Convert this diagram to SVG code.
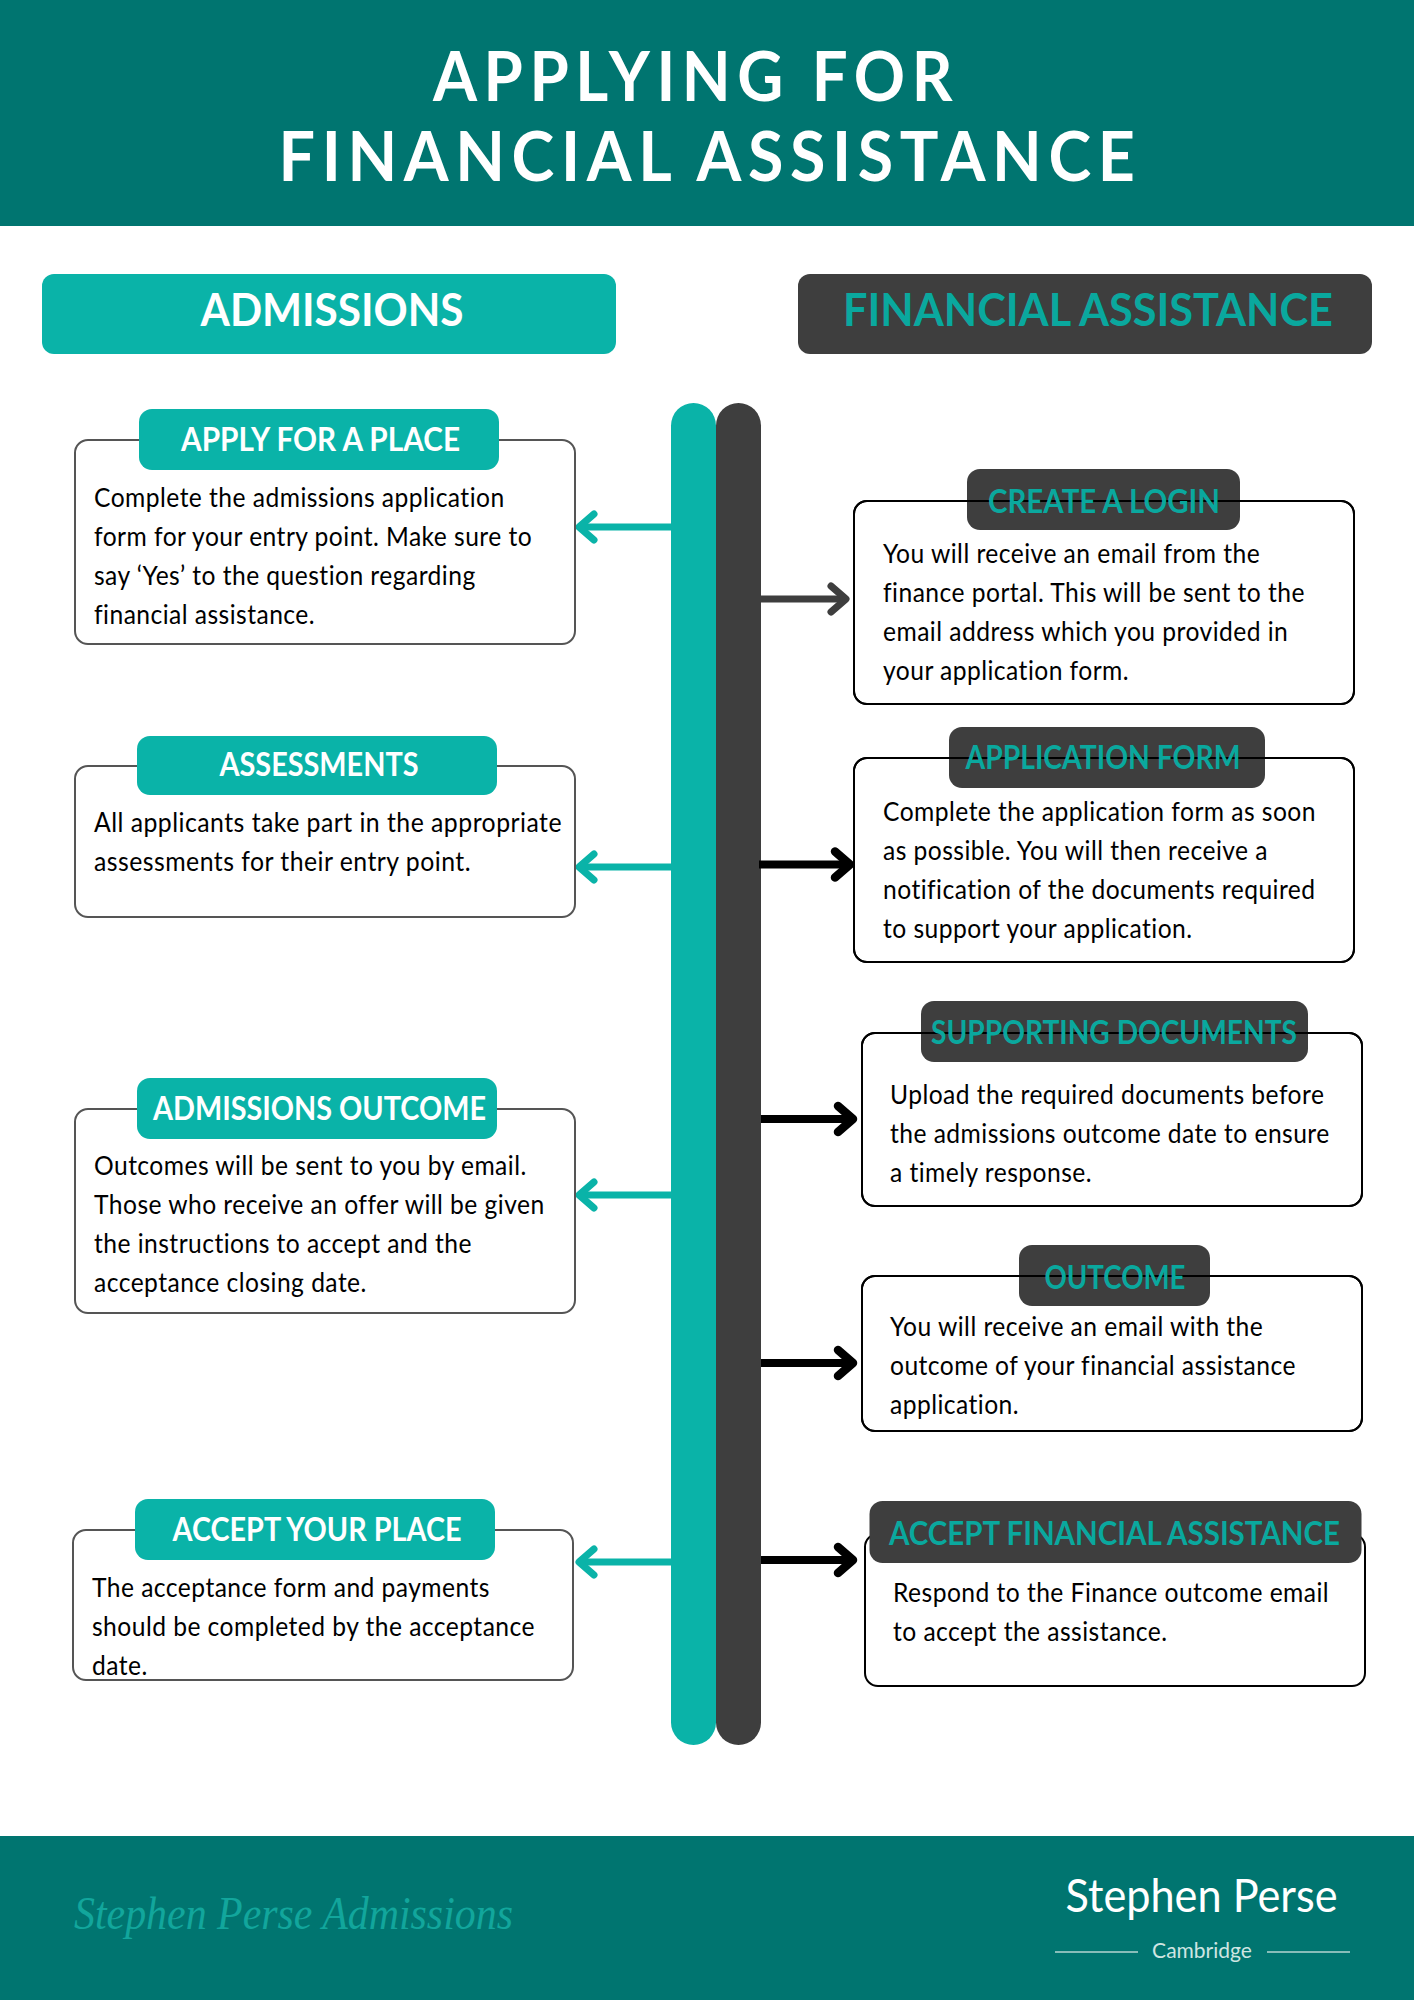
<svg xmlns="http://www.w3.org/2000/svg" width="1414" height="2000" viewBox="0 0 1414 2000">
<style>
text{font-family:Lato,"Noto Sans","Liberation Sans",sans-serif}
.band{fill:#007570}
.teal{fill:#0ab3a8}
.dark{fill:#3e3e3e}
.title{font-size:68px;font-weight:700;fill:#fff;letter-spacing:7px;text-anchor:middle}
.head{font-size:45px;font-weight:700;text-anchor:middle}
.tagw{font-size:32px;font-weight:700;fill:#fff;text-anchor:middle}
.tagt{font-size:32px;font-weight:700;fill:#0aa89e;text-anchor:middle}
.body{font-size:27px;fill:#000;letter-spacing:.5px}
.boxl{fill:#fff;stroke:#555;stroke-width:2}
.boxr{fill:#fff;stroke:#000;stroke-width:2}
.edge{fill:none;stroke:#000;stroke-width:2}
.arrow{fill:none;stroke-width:7}
.arrow-black{stroke-width:8}
.chev{fill:none;stroke-width:7;stroke-linecap:round;stroke-linejoin:round}
.chev-black{stroke-width:8.5}
</style>
<defs>
<marker id="m-teal" markerUnits="userSpaceOnUse" viewBox="-25 -20 30 40" refX="0" refY="0" markerWidth="30" markerHeight="40" orient="auto"><path class="chev" stroke="#0ab3a8" d="M-15 -13L0 0L-15 13"/></marker>
<marker id="m-dark" markerUnits="userSpaceOnUse" viewBox="-25 -20 30 40" refX="0" refY="0" markerWidth="30" markerHeight="40" orient="auto"><path class="chev" stroke="#3e3e3e" d="M-15 -13L0 0L-15 13"/></marker>
<marker id="m-black" markerUnits="userSpaceOnUse" viewBox="-25 -20 30 40" refX="0" refY="0" markerWidth="30" markerHeight="40" orient="auto"><path class="chev chev-black" stroke="#000" d="M-15 -13L0 0L-15 13"/></marker>
</defs>
<rect width="1414" height="2000" fill="#fff"/>
<g id="header"><rect class="band" width="1414" height="226"/>
<text class="title" x="696" y="101" textLength="526" lengthAdjust="spacingAndGlyphs">APPLYING FOR</text>
<text class="title" x="710" y="180.500" textLength="863" lengthAdjust="spacingAndGlyphs">FINANCIAL ASSISTANCE</text></g>
<g id="lane-admissions"><rect class="teal" x="42" y="274" width="574" height="80" rx="12"/><text class="head" x="332" y="326" fill="#fff" textLength="263" lengthAdjust="spacingAndGlyphs">ADMISSIONS</text></g>
<g id="lane-finance"><rect class="dark" x="798" y="274" width="574" height="80" rx="12"/><text class="head" x="1088" y="326" fill="#0aa89e" textLength="490" lengthAdjust="spacingAndGlyphs">FINANCIAL ASSISTANCE</text></g>
<g id="timeline"><rect class="teal" x="671" y="403" width="45" height="1342" rx="22.5"/><rect class="dark" x="716" y="403" width="45" height="1342" rx="22.5"/></g>
<g id="connectors">
<line class="arrow" stroke="#0ab3a8" x1="671" y1="527" x2="579" y2="527" marker-end="url(#m-teal)"/>
<line class="arrow" stroke="#0ab3a8" x1="671" y1="867" x2="579" y2="867" marker-end="url(#m-teal)"/>
<line class="arrow" stroke="#0ab3a8" x1="671" y1="1195" x2="579" y2="1195" marker-end="url(#m-teal)"/>
<line class="arrow" stroke="#0ab3a8" x1="671" y1="1562" x2="579" y2="1562" marker-end="url(#m-teal)"/>
<line class="arrow" stroke="#3e3e3e" x1="761" y1="599" x2="846" y2="599" marker-end="url(#m-dark)"/>
<line class="arrow arrow-black" stroke="#000" x1="759" y1="864.500" x2="850" y2="864.500" marker-end="url(#m-black)"/>
<line class="arrow arrow-black" stroke="#000" x1="761" y1="1119" x2="853" y2="1119" marker-end="url(#m-black)"/>
<line class="arrow arrow-black" stroke="#000" x1="761" y1="1363" x2="853" y2="1363" marker-end="url(#m-black)"/>
<line class="arrow arrow-black" stroke="#000" x1="761" y1="1560" x2="853" y2="1560" marker-end="url(#m-black)"/>
</g>
<g id="apply-for-a-place"><rect class="boxl" x="75" y="440" width="500" height="204" rx="13"/><rect class="teal" x="139" y="409" width="360" height="61" rx="13"/><text class="tagw" x="320.500" y="450.500" textLength="279" lengthAdjust="spacingAndGlyphs">APPLY FOR A PLACE</text>
<g transform="translate(94 0) scale(.912 1)"><text class="body" x="0" y="507">Complete the admissions application</text><text class="body" x="0" y="546">form for your entry point. Make sure to</text><text class="body" x="0" y="585">say ‘Yes’ to the question regarding</text><text class="body" x="0" y="624">financial assistance.</text></g></g>
<g id="assessments"><rect class="boxl" x="75" y="766" width="500" height="151" rx="13"/><rect class="teal" x="137" y="736" width="360" height="59" rx="13"/><text class="tagw" x="319" y="775.500" textLength="199" lengthAdjust="spacingAndGlyphs">ASSESSMENTS</text>
<g transform="translate(94 0) scale(.92 1)"><text class="body" x="0" y="832">All applicants take part in the appropriate</text><text class="body" x="0" y="871">assessments for their entry point.</text></g></g>
<g id="admissions-outcome"><rect class="boxl" x="75" y="1109" width="500" height="204" rx="13"/><rect class="teal" x="137" y="1078" width="360" height="61" rx="13"/><text class="tagw" x="319.500" y="1119.500" textLength="333" lengthAdjust="spacingAndGlyphs">ADMISSIONS OUTCOME</text>
<g transform="translate(94 0) scale(.912 1)"><text class="body" x="0" y="1175">Outcomes will be sent to you by email.</text><text class="body" x="0" y="1214">Those who receive an offer will be given</text><text class="body" x="0" y="1253">the instructions to accept and the</text><text class="body" x="0" y="1292">acceptance closing date.</text></g></g>
<g id="accept-your-place"><rect class="boxl" x="73" y="1530" width="500" height="150" rx="13"/><rect class="teal" x="135" y="1499" width="360" height="61" rx="13"/><text class="tagw" x="317" y="1540.500" textLength="289" lengthAdjust="spacingAndGlyphs">ACCEPT YOUR PLACE</text>
<g transform="translate(92 0) scale(.912 1)"><text class="body" x="0" y="1597">The acceptance form and payments</text><text class="body" x="0" y="1636">should be completed by the acceptance</text><text class="body" x="0" y="1675">date.</text></g></g>
<g id="create-a-login"><rect class="boxr" x="854" y="501" width="500" height="203" rx="13"/><rect class="dark" x="967" y="469" width="273" height="61" rx="13"/><rect class="edge" x="854" y="501" width="500" height="203" rx="13"/><text class="tagt" x="1104" y="512.500" textLength="232" lengthAdjust="spacingAndGlyphs">CREATE A LOGIN</text>
<g transform="translate(883 0) scale(.912 1)"><text class="body" x="0" y="563">You will receive an email from the</text><text class="body" x="0" y="602">finance portal. This will be sent to the</text><text class="body" x="0" y="641">email address which you provided in</text><text class="body" x="0" y="680">your application form.</text></g></g>
<g id="application-form"><rect class="boxr" x="854" y="758" width="500" height="204" rx="13"/><rect class="dark" x="949" y="727" width="316" height="61" rx="13"/><rect class="edge" x="854" y="758" width="500" height="204" rx="13"/><text class="tagt" x="1103" y="769" textLength="275" lengthAdjust="spacingAndGlyphs">APPLICATION FORM</text>
<g transform="translate(883 0) scale(.912 1)"><text class="body" x="0" y="821">Complete the application form as soon</text><text class="body" x="0" y="860">as possible. You will then receive a</text><text class="body" x="0" y="899">notification of the documents required</text><text class="body" x="0" y="938">to support your application.</text></g></g>
<g id="supporting-documents"><rect class="boxr" x="862" y="1033" width="500" height="173" rx="13"/><rect class="dark" x="921" y="1001" width="387" height="61" rx="13"/><rect class="edge" x="862" y="1033" width="500" height="173" rx="13"/><text class="tagt" x="1114" y="1043.500" textLength="366" lengthAdjust="spacingAndGlyphs">SUPPORTING DOCUMENTS</text>
<g transform="translate(890 0) scale(.912 1)"><text class="body" x="0" y="1104">Upload the required documents before</text><text class="body" x="0" y="1143">the admissions outcome date to ensure</text><text class="body" x="0" y="1182">a timely response.</text></g></g>
<g id="outcome"><rect class="boxr" x="862" y="1276" width="500" height="155" rx="13"/><rect class="dark" x="1019" y="1245" width="191" height="61" rx="13"/><rect class="edge" x="862" y="1276" width="500" height="155" rx="13"/><text class="tagt" x="1115" y="1288.500" textLength="141" lengthAdjust="spacingAndGlyphs">OUTCOME</text>
<g transform="translate(890 0) scale(.912 1)"><text class="body" x="0" y="1336">You will receive an email with the</text><text class="body" x="0" y="1375">outcome of your financial assistance</text><text class="body" x="0" y="1414">application.</text></g></g>
<g id="accept-financial-assistance"><rect class="boxr" x="865" y="1534" width="500" height="152" rx="13"/><rect class="dark" x="869.500" y="1501" width="492" height="62" rx="13"/><text class="tagt" x="1114.500" y="1544.500" textLength="451" lengthAdjust="spacingAndGlyphs">ACCEPT FINANCIAL ASSISTANCE</text>
<g transform="translate(893 0) scale(.912 1)"><text class="body" x="0" y="1602">Respond to the Finance outcome email</text><text class="body" x="0" y="1641">to accept the assistance.</text></g></g>
<g id="footer"><rect class="band" y="1836" width="1414" height="164"/>
<text x="74" y="1929" font-size="47" font-style="italic" fill="#12a69c" textLength="439" lengthAdjust="spacingAndGlyphs" style="font-family:'Liberation Serif',serif">Stephen Perse Admissions</text>
<text x="1201.500" y="1912" font-size="46" fill="#fff" text-anchor="middle" textLength="272" lengthAdjust="spacingAndGlyphs">Stephen Perse</text>
<text x="1202" y="1958" font-size="21" fill="#cfe5e2" text-anchor="middle">Cambridge</text>
<path d="M1055 1952H1138M1267 1952H1350" stroke="#b5d5d1" stroke-width="1.5" fill="none"/></g>
</svg>
